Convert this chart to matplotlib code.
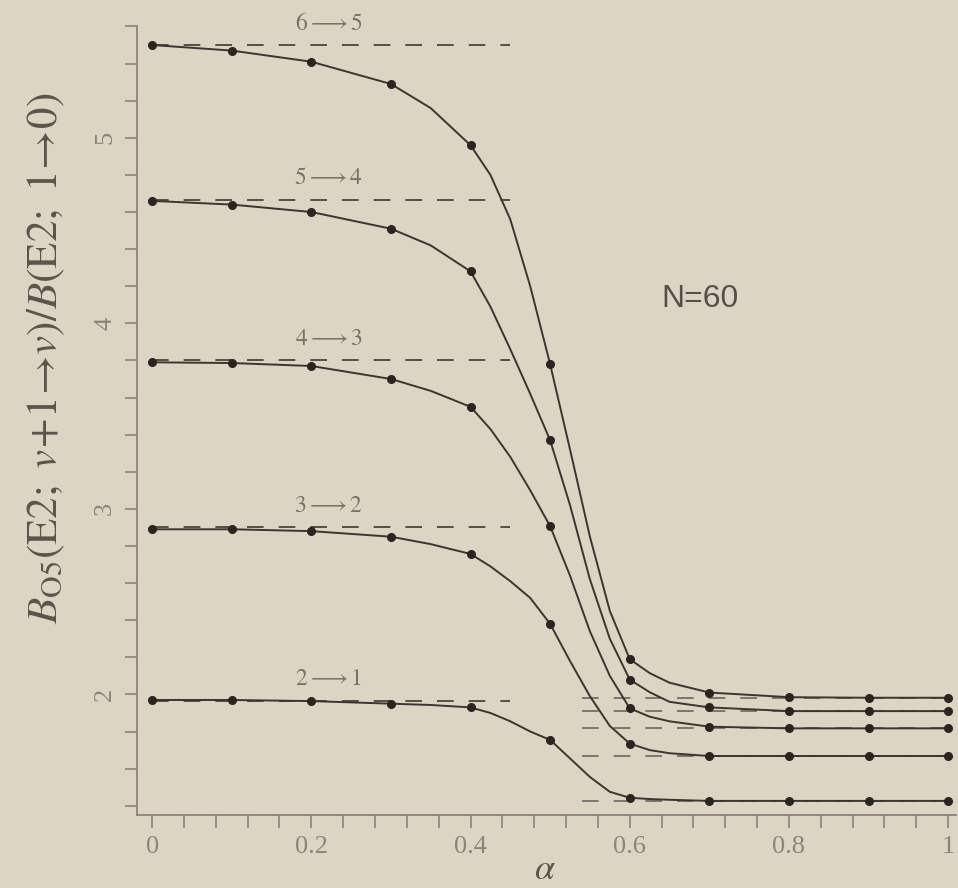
import matplotlib
matplotlib.use("Agg")
import matplotlib.pyplot as plt
from matplotlib.ticker import MultipleLocator

# alpha values where the dots sit
alpha_pts = [0.0, 0.1, 0.2, 0.3, 0.4, 0.5, 0.6, 0.7, 0.8, 0.9, 1.0]
b65_pts = [5.50, 5.47, 5.41, 5.29, 4.96, 3.78, 2.19, 2.01, 1.985, 1.982, 1.982]
b54_pts = [4.66, 4.64, 4.60, 4.51, 4.28, 3.37, 2.08, 1.93, 1.91, 1.91, 1.91]
b43_pts = [3.79, 3.786, 3.77, 3.70, 3.55, 2.907, 1.925, 1.826, 1.817, 1.817, 1.817]
b32_pts = [2.89, 2.89, 2.88, 2.85, 2.757, 2.38, 1.735, 1.668, 1.668, 1.668, 1.668]
b21_pts = [1.97, 1.97, 1.964, 1.95, 1.93, 1.755, 1.443, 1.426, 1.426, 1.426, 1.426]

alpha_line = [0.0, 0.1, 0.2, 0.3, 0.35, 0.4, 0.425, 0.45, 0.475, 0.5, 0.525,
              0.55, 0.575, 0.6, 0.625, 0.65, 0.7, 0.8, 0.9, 1.0]
b65_line = [5.50, 5.47, 5.41, 5.29, 5.16, 4.96, 4.80, 4.56, 4.20, 3.78, 3.32,
            2.85, 2.45, 2.19, 2.115, 2.063, 2.01, 1.985, 1.982, 1.982]
b54_line = [4.66, 4.64, 4.60, 4.51, 4.42, 4.28, 4.09, 3.86, 3.62, 3.37, 3.02,
            2.62, 2.30, 2.08, 2.012, 1.96, 1.93, 1.91, 1.91, 1.91]
b43_line = [3.79, 3.786, 3.77, 3.70, 3.636, 3.55, 3.43, 3.28, 3.10, 2.907, 2.64,
            2.34, 2.10, 1.925, 1.88, 1.855, 1.826, 1.817, 1.817, 1.817]
b32_line = [2.89, 2.89, 2.88, 2.85, 2.81, 2.757, 2.69, 2.61, 2.52, 2.38, 2.18,
            1.99, 1.83, 1.735, 1.70, 1.683, 1.668, 1.668, 1.668, 1.668]
b21_line = [1.97, 1.97, 1.964, 1.95, 1.943, 1.93, 1.90, 1.855, 1.80, 1.755, 1.655,
            1.555, 1.475, 1.443, 1.436, 1.432, 1.426, 1.426, 1.426, 1.426]

labels = [r'$6\longrightarrow5$', r'$5\longrightarrow4$', r'$4\longrightarrow3$',
          r'$3\longrightarrow2$', r'$2\longrightarrow1$']
left_limits = [5.5, 4.667, 3.8, 2.9, 1.967]
right_limits = [1.982, 1.91, 1.817, 1.668, 1.426]

bg = '#ddd5c3'
plt.rcParams['font.family'] = ['Liberation Serif', 'DejaVu Serif']
plt.rcParams['mathtext.fontset'] = 'stix'

fig = plt.figure(figsize=(9.58, 8.88), dpi=100, facecolor=bg)
ax = fig.add_axes([0.143, 0.0822, 0.855, 0.888], facecolor=bg)

for lv in left_limits:
    ax.plot([0.0, 0.45], [lv, lv], color='#3c3833', lw=1.2, dashes=(10, 9), zorder=1)
for rv in right_limits:
    ax.plot([0.54, 1.0], [rv, rv], color='#6b655c', lw=1.2, dashes=(10, 9), zorder=1)

lines = [b65_line, b54_line, b43_line, b32_line, b21_line]
pts = [b65_pts, b54_pts, b43_pts, b32_pts, b21_pts]
for ln, p in zip(lines, pts):
    ax.plot(alpha_line, ln, color='#3a3530', lw=1.4, zorder=2)
    ax.plot(alpha_pts, p, 'o', color='#2a2520', ms=5.5, zorder=3)

for lab, lv in zip(labels, left_limits):
    ax.text(0.222, lv + 0.115, lab, ha='center', va='center', fontsize=17, color='#7a7266')

ax.text(0.688, 4.13, "N=60", family='Liberation Sans', fontsize=23,
        color='#55504a', ha='center', va='center')

ax.set_xlim(-0.019, 1.01)
ax.set_ylim(1.35, 5.6)
ax.xaxis.set_minor_locator(MultipleLocator(0.04))
ax.yaxis.set_minor_locator(MultipleLocator(0.2))
ax.set_xticks([0, 0.2, 0.4, 0.6, 0.8, 1.0])
ax.set_xticklabels(['0', '0.2', '0.4', '0.6', '0.8', '1'])
ax.set_yticks([2, 3, 4, 5])
ax.set_yticklabels(['2', '3', '4', '5'], rotation=90, va='center')

spine_c = '#8f827c'
for s in ['top', 'right']:
    ax.spines[s].set_visible(False)
for s in ['left', 'bottom']:
    ax.spines[s].set_color(spine_c)
    ax.spines[s].set_linewidth(1.3)
ax.tick_params(which='both', direction='out', length=9, width=1.2, color=spine_c,
               labelcolor='#8c8479', labelsize=19, pad=6)

fig.text(46 / 958, 1 - 358 / 888,
         r'$B_{\mathrm{O5}}(\mathrm{E2};\ v\!+\!1\!\rightarrow\! v)/B(\mathrm{E2};\ 1\!\rightarrow\! 0)$',
         rotation=90, ha='center', va='center', fontsize=31, color='#5a544c')
fig.text(545 / 958, 1 - 870 / 888, r'$\alpha$', ha='center', va='center',
         fontsize=26, color='#5a544c')

fig.savefig('out.png', dpi=100, facecolor=bg)
